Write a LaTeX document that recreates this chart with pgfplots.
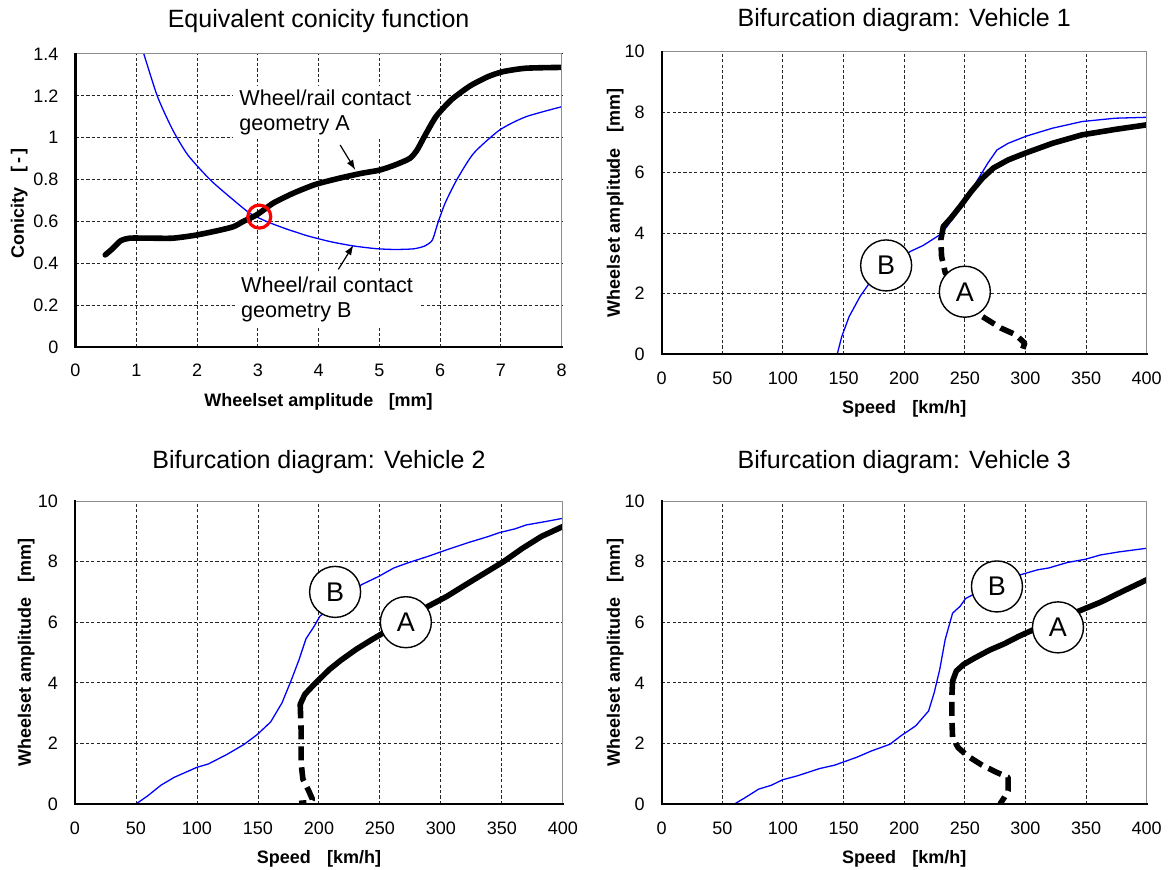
\documentclass[border=0pt]{standalone}
\usepackage{fontspec}
\setmainfont{Liberation Sans}
\usepackage{pgfplots}
\pgfplotsset{compat=1.18}
\usetikzlibrary{arrows.meta}

\definecolor{curveB}{RGB}{0,0,255}

\tikzset{
  tag/.style={circle, draw=black, line width=0.7pt, fill=white, minimum size=25.5pt,
    inner sep=0pt, font=\fontsize{13.5}{15}\selectfont},
  note/.style={fill=white, align=left, anchor=west, inner xsep=3pt, inner ysep=2pt,
    xshift=-3pt, font=\fontsize{10.8}{12.5}\selectfont},
}

\pgfplotsset{
  panel/.style={
    scale only axis,
    anchor=south west,
    clip mode=individual,
    axis line style={draw=none},
    major tick length=0pt,
    grid=major,
    major grid style={black!85, line width=0.5pt, dash pattern=on 1.6pt off 1.1pt},
    tick label style={font=\fontsize{9}{10}\selectfont},
    /pgf/number format/assume math mode=true,
    xticklabel style={anchor=center, yshift=-12pt},
    yticklabel style={anchor=east, xshift=-5pt},
    every axis x label/.style={at={(axis description cs:0.5,0)}, anchor=base, yshift=-29.7pt},
    every axis y label/.style={at={(axis description cs:-0.1,0.5)}, anchor=center, rotate=90},
    label style={font=\fontsize{9}{10}\selectfont\bfseries},
    every axis title/.style={at={(0.5,1)}, anchor=base, font=\fontsize{12.5}{14}\selectfont},
    after end axis/.code={
      \draw[black!45, line width=0.5pt] (rel axis cs:0,1) -- (rel axis cs:1,1) -- (rel axis cs:1,0);
      \draw[black, line width=1.1pt, line cap=rect] (rel axis cs:0,1) -- (rel axis cs:0,0) -- (rel axis cs:1,0);
    },
  },
  speedpanel/.style={
    panel,
    xmin=0, xmax=400, ymin=0, ymax=10,
    xtick={0,50,100,150,200,250,300,350,400},
    ytick={0,2,4,6,8,10},
    xlabel={Speed\hspace{0.9em}[km/h]},
    ylabel={Wheelset amplitude\hspace{0.85em}[mm]},
  },
  geomA/.style={black, line width=2.8pt, line join=round, line cap=round},
  geomAunst/.style={black, line width=2.8pt, line join=round, dash pattern=on 7pt off 3.5pt},
  geomB/.style={curveB, line width=0.65pt, line join=round},
}

\begin{document}
\begin{tikzpicture}
\useasboundingbox (0,0) rectangle (585pt,434.5pt);

% ---------- Equivalent conicity function ----------
\begin{axis}[panel,
  at={(37.75pt,261pt)}, width=243.1pt, height=146.5pt,
  xmin=0, xmax=8, ymin=0, ymax=1.4,
  xtick={0,1,2,3,4,5,6,7,8},
  ytick={0,0.2,0.4,0.6,0.8,1,1.2,1.4},
  xticklabel style={yshift=0.5pt},
  title={Equivalent conicity function},
  title style={yshift=13.3pt},
  xlabel={Wheelset amplitude\hspace{0.85em}[mm]},
  ylabel={Conicity\hspace{0.85em}[\,-\,]},
  ylabel style={at={(axis description cs:-0.116,0.49)}},
]
\node[note] at (axis cs:2.69,1.12) {Wheel/rail contact\\geometry A};
\node[note] at (axis cs:2.72,0.228) {Wheel/rail contact\\geometry B};
\draw[-{Latex[length=5pt,width=3.6pt]}, line width=0.6pt] (axis cs:4.355,0.965) -- (axis cs:4.604,0.846);
\draw[-{Latex[length=5pt,width=3.6pt]}, line width=0.6pt] (axis cs:4.325,0.371) -- (axis cs:4.573,0.487);

% geometry B
\addplot[geomB, smooth, tension=0.4] coordinates {
  (1.125,1.40) (1.35,1.196) (1.60,1.037) (1.85,0.917) (2.22,0.798) (2.60,0.702)
  (2.87,0.639) (3.15,0.599) (3.46,0.565) (3.69,0.543) (3.83,0.530) (4.20,0.503)
  (4.57,0.483) (4.94,0.470) (5.25,0.466) (5.56,0.469) (5.74,0.482) (5.87,0.510)
  (5.96,0.590) (6.08,0.686) (6.27,0.797) (6.55,0.925) (6.98,1.037) (7.41,1.10) (8.0,1.148)
};
% geometry A
\addplot[geomA, smooth, tension=0.4] coordinates {
  (0.49,0.44) (0.61,0.47) (0.74,0.507) (0.89,0.52) (1.23,0.52) (1.6,0.52) (1.97,0.534)
  (2.34,0.556) (2.60,0.575) (2.76,0.600) (2.98,0.631) (3.25,0.687) (3.46,0.718)
  (3.64,0.742) (3.95,0.777) (4.32,0.805) (4.69,0.829) (5.0,0.845) (5.25,0.869)
  (5.5,0.901) (5.62,0.941) (5.74,1.005) (5.93,1.10) (6.18,1.18) (6.49,1.247)
  (6.79,1.292) (7.04,1.316) (7.41,1.332) (8.0,1.336)
};
% crossing of the two conicity curves
\addplot[only marks, mark=o, mark size=5.75pt, mark options={draw=red, line width=1.6pt}]
  coordinates {(3.024,0.623)};
\end{axis}

% ---------- Vehicle 1 ----------
\begin{axis}[speedpanel,
  at={(330.85pt,257.5pt)}, width=242.5pt, height=151.15pt,
  title={Bifurcation diagram: Vehicle 1},
  title style={yshift=12.5pt},
  ylabel style={at={(axis description cs:-0.0957,0.5)}},
]
\addplot[geomB] coordinates {
  (144.8,0) (148.5,0.58) (154.6,1.24) (163.7,1.91) (171.4,2.35) (204.9,3.39)
  (215.6,3.59) (229.3,3.94) (235.4,4.22) (243.0,4.66) (252.2,5.21) (261.3,5.81)
  (268.9,6.31) (276.5,6.75) (285.7,6.97) (300.9,7.21) (322.3,7.47) (346.7,7.69)
  (374.1,7.80) (400,7.83)
};
\addplot[geomAunst] coordinates {
  (232.3,4.22) (230.2,3.78) (230.8,3.23) (233.9,2.68) (250,2.06) (264.4,1.24)
  (279.6,0.86) (291.8,0.64) (299.4,0.36) (296.4,0)
};
\addplot[geomA] coordinates {
  (232.3,4.22) (238.4,4.49) (246.1,4.88) (255.2,5.37) (264.4,5.81) (273.5,6.15)
  (285.7,6.42) (300.9,6.66) (322.3,6.97) (346.7,7.25) (374.1,7.43) (400,7.58)
};
\node[tag] at (axis cs:185.1,2.93) {B};
\node[tag] at (axis cs:250.0,2.06) {A};
\end{axis}

% ---------- Vehicle 2 ----------
\begin{axis}[speedpanel,
  at={(37.5pt,32.5pt)}, width=244pt, height=151.5pt,
  title={Bifurcation diagram: Vehicle 2},
  title style={yshift=16.5pt},
  ylabel style={at={(axis description cs:-0.0998,0.5)}},
]
\addplot[geomB] coordinates {
  (50,0) (59.6,0.27) (70.4,0.62) (81.3,0.88) (99.9,1.21) (109.2,1.32) (124.7,1.64)
  (138.7,1.97) (149.6,2.30) (160.4,2.71) (169.7,3.34) (177.5,4.11) (183.7,4.77)
  (189.3,5.45) (196.1,5.87) (200.8,6.20) (234.9,7.24) (248.9,7.51) (261.3,7.79)
  (273.7,7.97) (289.2,8.17) (304.7,8.39) (323.4,8.64) (338.9,8.83) (348.2,8.96)
  (360.6,9.08) (369.9,9.21) (385.4,9.32) (400,9.43)
};
\addplot[geomAunst] coordinates {
  (184.6,3.29) (185.3,2.47) (185.3,1.37) (186.8,0.82) (191.5,0.44) (194.6,0.16)
  (193.0,0.05) (183.7,0.02)
};
\addplot[geomA] coordinates {
  (184.6,3.29) (188.4,3.62) (196.1,3.95) (208.5,4.44) (217.8,4.74) (230.3,5.10)
  (242.7,5.41) (252.0,5.63) (289.2,6.52) (304.7,6.85) (320.3,7.24) (335.8,7.62)
  (351.3,8.00) (366.8,8.44) (382.3,8.83) (400,9.16)
};
\node[tag] at (axis cs:213.2,7.0) {B};
\node[tag] at (axis cs:271.2,6.0) {A};
\end{axis}

% ---------- Vehicle 3 ----------
\begin{axis}[speedpanel,
  at={(330.85pt,32.5pt)}, width=242.5pt, height=151.5pt,
  title={Bifurcation diagram: Vehicle 3},
  title style={yshift=16.5pt},
  ylabel style={at={(axis description cs:-0.0957,0.5)}},
]
\addplot[geomB] coordinates {
  (60,0) (69.2,0.22) (79.9,0.49) (90.5,0.62) (99.7,0.80) (111.9,0.93) (130.2,1.17)
  (142.4,1.28) (160.7,1.54) (172.9,1.75) (188.1,1.97) (197.3,2.25) (209.5,2.58)
  (220.1,3.07) (224.7,3.67) (229.3,4.44) (233.8,5.43) (239.9,6.30) (246.0,6.52)
  (250.6,6.78) (256.7,6.91) (296.3,7.57) (310.1,7.73) (319.2,7.79) (334.5,7.97)
  (349.7,8.08) (361.9,8.22) (377.1,8.32) (400,8.44)
};
\addplot[geomAunst] coordinates {
  (239.9,4.06) (239.3,3.56) (239.3,2.80) (239.9,2.19) (244.5,1.86) (252.1,1.59)
  (264.3,1.28) (276.5,1.04) (285.7,0.88) (285.7,0.44) (282.6,0.22) (279.0,0)
};
\addplot[geomA] coordinates {
  (239.9,4.06) (243.0,4.39) (249.1,4.61) (258.2,4.82) (270.4,5.08) (282.6,5.29)
  (294.8,5.54) (307.0,5.76) (343.6,6.36) (361.9,6.66) (380.2,7.02) (400,7.40)
};
\node[tag] at (axis cs:276.5,7.18) {B};
\node[tag] at (axis cs:326.8,5.83) {A};
\end{axis}
\end{tikzpicture}
\end{document}
